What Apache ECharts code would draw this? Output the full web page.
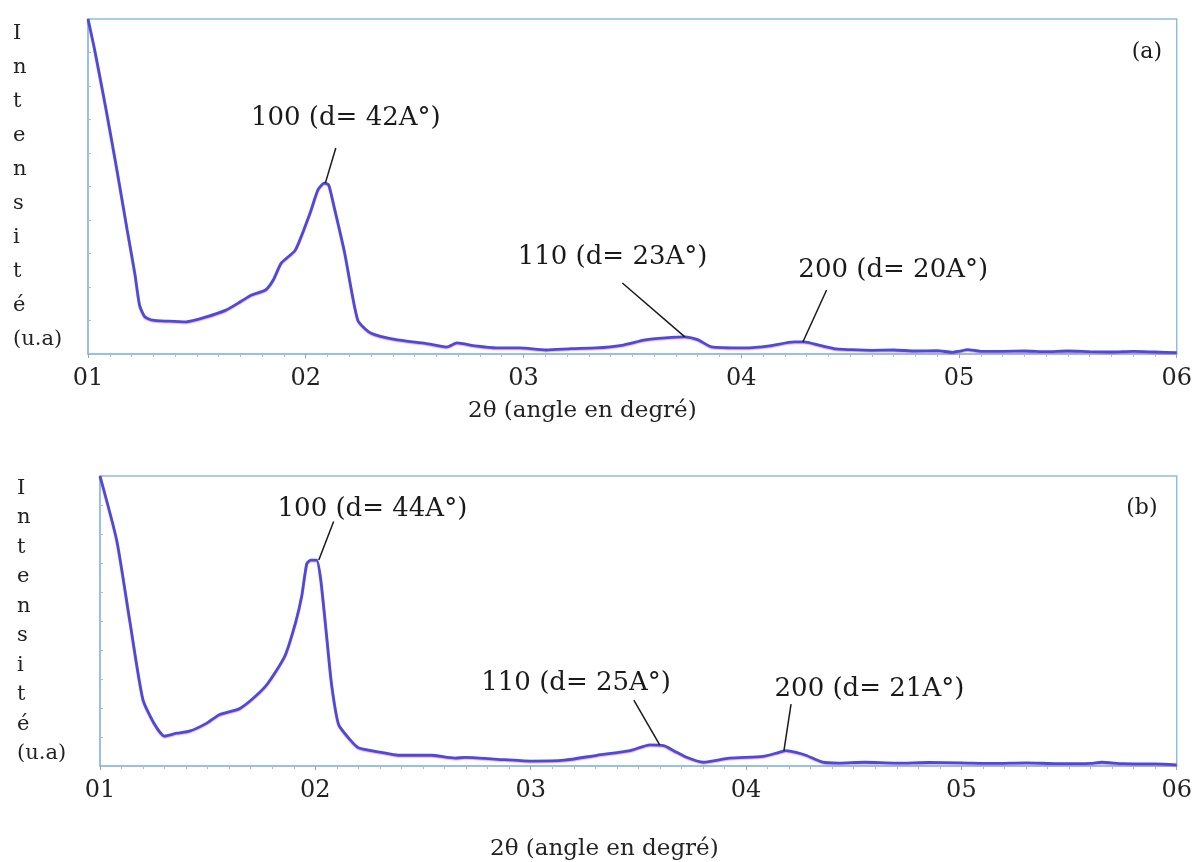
<!DOCTYPE html>
<html>
<head>
<meta charset="utf-8">
<title>Diffractogrammes DRX</title>
<script src="https://cdn.jsdelivr.net/npm/echarts@6/dist/echarts.min.js"></script>
<style>
  html, body { margin: 0; padding: 0; background: #fff; }
  #chart { width: 1195px; height: 862px; }
</style>
</head>
<body>
<div id="chart"></div>
<script>
// Sample (a): 2θ (degrees) and intensity (arbitrary units)
const twoThetaA = [1.00, 1.03, 1.08, 1.13, 1.18, 1.215, 1.237, 1.26, 1.296, 1.37, 1.451, 1.54, 1.633, 1.70, 1.751, 1.815, 1.85, 1.888, 1.952, 2.020, 2.056, 2.085, 2.105, 2.13, 2.179, 2.239, 2.298, 2.421, 2.55, 2.648, 2.694, 2.78, 2.876, 2.981, 3.104, 3.22, 3.332, 3.45, 3.559, 3.65, 3.741, 3.80, 3.864, 4.015, 4.13, 4.242, 4.288, 4.36, 4.438, 4.5, 4.6, 4.7, 4.8, 4.9, 4.97, 5.0, 5.04, 5.1, 5.2, 5.3, 5.4, 5.5, 5.6, 5.7, 5.8, 5.9, 6.0];
const intensityA = [100, 91, 74, 56, 37, 24, 14.5, 11.2, 10.1, 9.8, 9.6, 11.0, 13.1, 15.6, 17.6, 19.1, 22.0, 27.2, 31, 42.1, 49, 51, 50.5, 44, 30.1, 10.1, 6.3, 4.2, 3.2, 2.1, 3.3, 2.4, 1.8, 1.8, 1.2, 1.6, 1.8, 2.6, 4.2, 4.8, 5.1, 4.3, 2.1, 1.8, 2.4, 3.6, 3.6, 2.6, 1.5, 1.3, 1.1, 1.2, 0.9, 1.0, 0.5, 0.8, 1.3, 0.8, 0.8, 0.9, 0.7, 0.9, 0.7, 0.6, 0.8, 0.6, 0.4];

// Sample (b)
const twoThetaB = [1.00, 1.078, 1.139, 1.199, 1.254, 1.300, 1.355, 1.415, 1.494, 1.554, 1.646, 1.706, 1.771, 1.831, 1.863, 1.909, 1.937, 1.960, 1.979, 2.006, 2.025, 2.053, 2.076, 2.108, 2.154, 2.200, 2.307, 2.385, 2.537, 2.648, 2.694, 2.847, 2.999, 3.156, 3.308, 3.461, 3.553, 3.618, 3.664, 3.724, 3.802, 3.922, 4.079, 4.153, 4.186, 4.232, 4.278, 4.356, 4.430, 4.55, 4.7, 4.85, 5.0, 5.15, 5.3, 5.45, 5.6, 5.65, 5.75, 5.9, 6.0];
const intensityB = [100, 77.7, 49.7, 23, 14.3, 10.3, 11.3, 12, 14.7, 17.7, 19.7, 23, 27.7, 34.3, 38.7, 49.7, 58.7, 69.7, 71, 71, 64.3, 44.3, 27.7, 14.3, 9.7, 6.3, 4.7, 3.7, 3.7, 2.7, 3, 2.3, 1.7, 2, 3.7, 5.3, 7.3, 7, 5.3, 3, 1.3, 2.7, 3.3, 4.7, 5.3, 4.7, 3.7, 1.3, 1.0, 1.3, 1.0, 1.2, 1.1, 0.9, 1.1, 0.8, 0.9, 1.3, 0.8, 0.7, 0.4];

// Tick labels of the 2θ axis
const tickLabels = { 1: '01', 2: '02', 3: '03', 4: '04', 5: '05', 6: '06' };

// Reflections: [label, peak 2θ, peak I, leader end 2θ, leader end I, text 2θ, text I]
const peaksA = [
  ['100 (d= 42A°)', 2.09, 51, 2.138, 61.5, 2.184, 70.4],
  ['110 (d= 23A°)', 3.741, 5.1, 3.454, 21.2, 3.409, 29],
  ['200 (d= 20A°)', 4.283, 3.6, 4.392, 19.1, 4.698, 25]
];
const peaksB = [
  ['100 (d= 44A°)', 2.016, 71, 2.085, 84.3, 2.265, 88.7],
  ['110 (d= 25A°)', 3.599, 7.3, 3.479, 22.7, 3.211, 28.7],
  ['200 (d= 21A°)', 4.176, 5.3, 4.209, 21.3, 4.573, 26.3]
];
const panelTags = [['(a)', 5.863, 90], ['(b)', 5.838, 88.7]];

const xName = '2θ (angle en degré)';
const yName = 'I\nn\nt\ne\nn\ns\ni\nt\né\n(u.a)';

const serif = 'DejaVu Serif';
const frame = '#8fbce6';

function zip(xs, ys) { return xs.map((x, i) => [x, ys[i]]); }

function xAxisFor(gridIndex, nameGap, shiftLeft) {
  return {
    type: 'value', gridIndex, min: 1, max: 6, interval: 1,
    name: xName, nameLocation: 'middle', nameGap,
    nameTextStyle: { fontFamily: serif, fontSize: 23, color: '#222', padding: [0, shiftLeft * 2, 0, 0] },
    axisLine: { lineStyle: { color: frame, width: 1.5 } },
    axisTick: { show: true, length: 4, lineStyle: { color: '#9aa6b4' } },
    minorTick: { show: true, splitNumber: 10, length: 3, lineStyle: { color: '#b4bcc8' } },
    axisLabel: { formatter: v => tickLabels[v] || '', fontFamily: serif, fontSize: 24, color: '#222', margin: 13 },
    splitLine: { show: false }
  };
}

function yAxisFor(gridIndex, lineHeight, nameGap) {
  return {
    type: 'value', gridIndex, min: 0, max: 100, interval: 10,
    name: yName, nameLocation: 'middle', nameRotate: 0, nameGap,
    nameTextStyle: { fontFamily: serif, fontSize: 21, color: '#222', lineHeight, align: 'left' },
    axisLine: { show: true, lineStyle: { color: frame, width: 1.5 } },
    axisTick: { show: true, inside: true, length: 3, lineStyle: { color: '#b4bcc8' } },
    axisLabel: { show: false },
    splitLine: { show: false }
  };
}

function annotations(peaks, tag) {
  return {
    markLine: {
      silent: true, animation: false, symbol: ['none', 'none'],
      label: { show: false },
      lineStyle: { color: '#1a1a1a', width: 1.5, type: 'solid' },
      data: peaks.map(p => [{ coord: [p[1], p[2]] }, { coord: [p[3], p[4]] }])
    },
    markPoint: {
      silent: true, animation: false, symbol: 'circle', symbolSize: 1,
      itemStyle: { color: 'rgba(0,0,0,0)' },
      label: { show: true, position: 'inside', fontFamily: serif, fontSize: 26, color: '#1a1a1a' },
      data: peaks.map(p => ({ coord: [p[5], p[6]], label: { formatter: p[0] } }))
        .concat([{ coord: [tag[1], tag[2]], label: { formatter: tag[0], fontSize: 22 } }])
    }
  };
}

function curve(index, data, peaks, tag) {
  return Object.assign({
    type: 'line', xAxisIndex: index, yAxisIndex: index,
    data, showSymbol: false, smooth: 0.2, animation: false,
    lineStyle: { color: '#4a4cd6', width: 2.8, shadowColor: 'rgba(230,60,200,0.45)', shadowOffsetY: 1, shadowBlur: 1 }
  }, annotations(peaks, tag));
}

const chart = echarts.init(document.getElementById('chart'), null, { renderer: 'canvas' });
chart.setOption({
  backgroundColor: '#ffffff',
  animation: false,
  grid: [
    { left: 88, top: 19, width: 1098, height: 335, show: true, borderColor: frame, borderWidth: 1.5, backgroundColor: 'transparent' },
    { left: 100, top: 476, width: 1083, height: 300, show: true, borderColor: frame, borderWidth: 1.5, backgroundColor: 'transparent' }
  ],
  xAxis: [xAxisFor(0, 46, 50), xAxisFor(1, 72, 34)],
  yAxis: [yAxisFor(0, 34, 75), yAxisFor(1, 29.5, 83)],
  series: [
    curve(0, zip(twoThetaA, intensityA), peaksA, panelTags[0]),
    curve(1, zip(twoThetaB, intensityB), peaksB, panelTags[1])
  ]
});
</script>
</body>
</html>
